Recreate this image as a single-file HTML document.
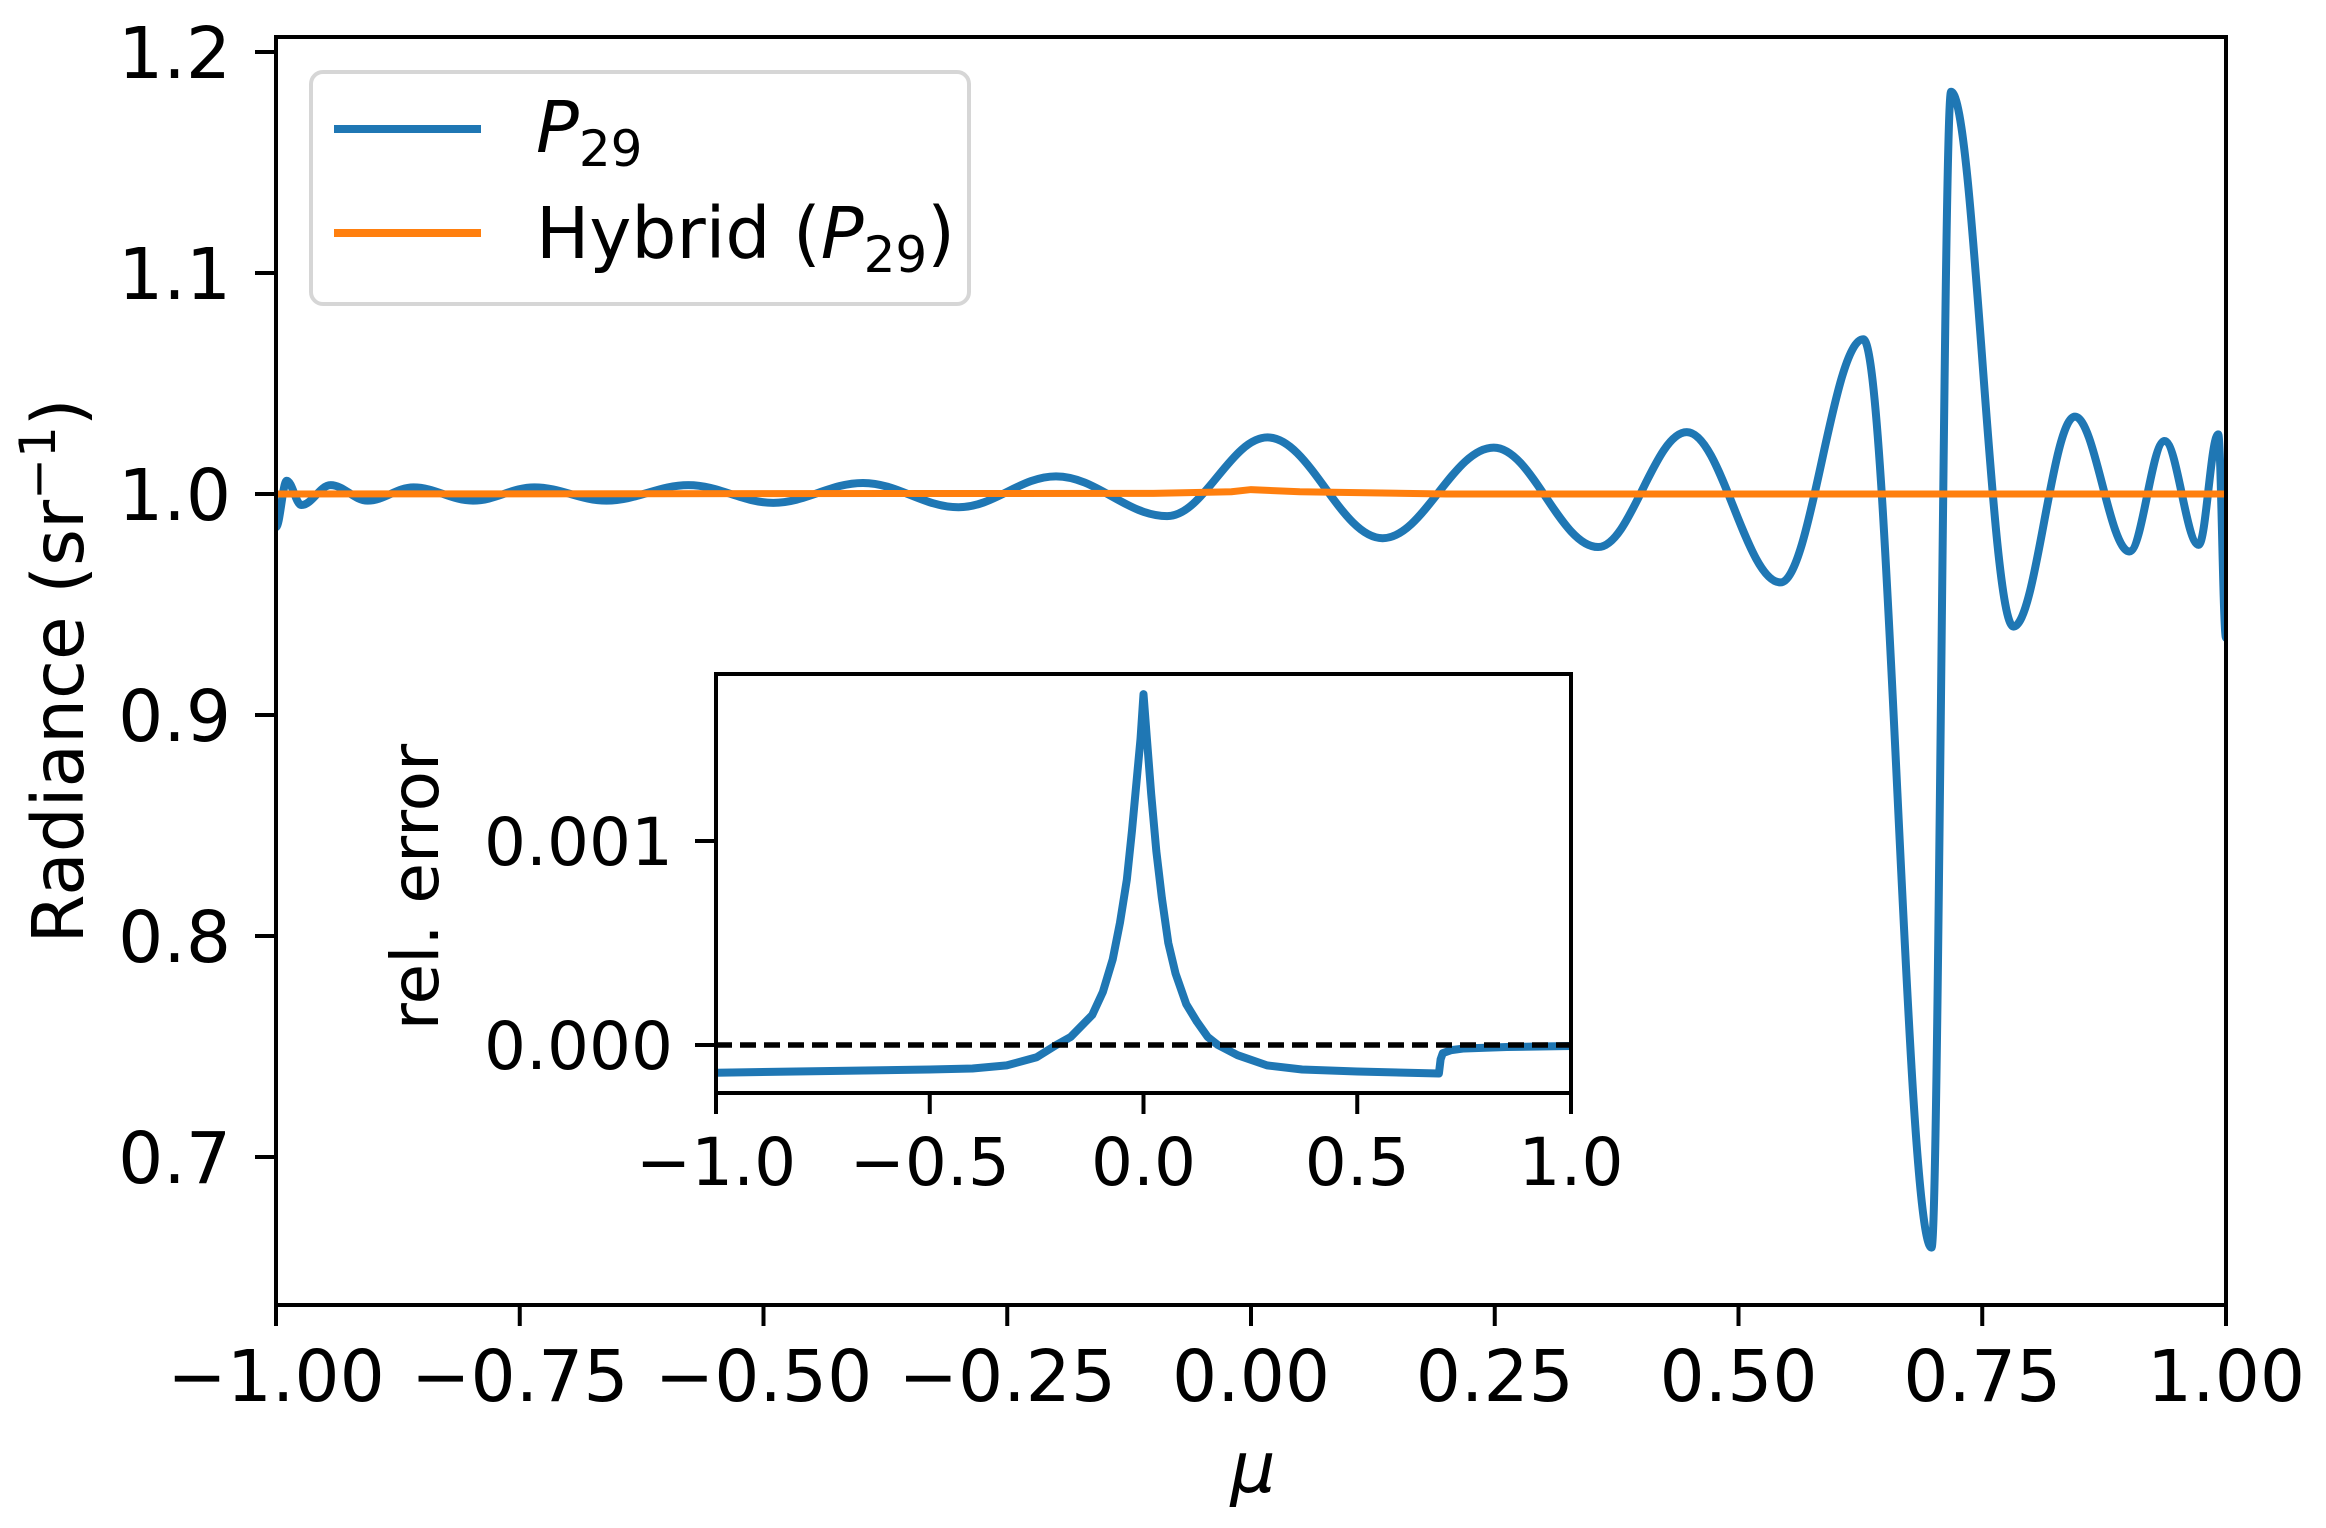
<!DOCTYPE html>
<html><head><meta charset="utf-8"><style>
html,body{margin:0;padding:0;background:#fff;}
svg text{font-family:"DejaVu Sans","Liberation Sans",sans-serif;fill:#000;}
</style></head><body>
<svg id="chart" xmlns="http://www.w3.org/2000/svg" width="2326" height="1523" viewBox="0 0 2326 1523">
<rect x="0" y="0" width="2326" height="1523" fill="#fff"/>
<defs>
<clipPath id="mainClip"><rect x="276" y="37" width="1950" height="1268"/></clipPath>
<clipPath id="insetClip"><rect x="716" y="674" width="855" height="419"/></clipPath>
</defs>
<g id="mainPlot"></g>
<g id="insetPlot"></g>
<text x="1253" y="1492" font-size="71" font-style="italic" text-anchor="middle">μ</text>
<text transform="translate(83,671) rotate(-90)" font-size="71" text-anchor="middle">Radiance (sr<tspan font-size="50" dy="-28">−1</tspan><tspan dy="28">)</tspan></text>
<text transform="translate(438,887) rotate(-90)" font-size="66" text-anchor="middle">rel. error</text>
<g>
<rect x="311" y="72" width="658" height="232" rx="12" fill="#fff" fill-opacity="0.8" stroke="#d6d6d6" stroke-width="4"/>
<line x1="334" y1="129" x2="481" y2="129" stroke="#1f77b4" stroke-width="8"/>
<text x="536" y="152" font-size="71"><tspan font-style="italic">P</tspan><tspan font-size="50" dy="14">29</tspan></text>
<line x1="334" y1="233" x2="481" y2="233" stroke="#ff7f0e" stroke-width="8"/>
<text x="536" y="258" font-size="71">Hybrid (<tspan font-style="italic">P</tspan><tspan font-size="50" dy="14">29</tspan><tspan dy="-14">)</tspan></text>
</g>
</svg>
<script>
// Main chart data (P29 extrema)
const p29Mu = [-1.0,-0.989,-0.974,-0.944,-0.906,-0.859,-0.798,-0.735,-0.661,-0.577,-0.490,-0.398,-0.300,-0.200,-0.086,0.017,0.135,0.249,0.356,0.447,0.543,0.628,0.698,0.718,0.782,0.845,0.901,0.937,0.972,0.992,1.0];
const p29Val = [0.985,1.006,0.995,1.004,0.997,1.003,0.997,1.003,0.997,1.004,0.996,1.005,0.994,1.008,0.990,1.0256,0.980,1.021,0.976,1.028,0.960,1.070,0.659,1.182,0.940,1.035,0.974,1.024,0.977,1.027,0.935];
const hybridMu = [-1.0,-0.1,-0.02,0.0,0.05,0.2,1.0];
const hybridVal = [1.0,1.0003,1.001,1.002,1.001,1.0,1.0];
const mainXTicks = [-1.0,-0.75,-0.5,-0.25,0.0,0.25,0.5,0.75,1.0];
const mainXTickLabels = ["−1.00","−0.75","−0.50","−0.25","0.00","0.25","0.50","0.75","1.00"];
const mainYTicks = [0.7,0.8,0.9,1.0,1.1,1.2];
const mainYTickLabels = ["0.7","0.8","0.9","1.0","1.1","1.2"];
// Inset data
const errMu = [-1.0,-0.5,-0.4,-0.32,-0.25,-0.204,-0.17,-0.12,-0.095,-0.072,-0.055,-0.039,-0.027,-0.015,-0.007,0.0,0.008,0.018,0.03,0.043,0.058,0.075,0.1,0.125,0.15,0.174,0.22,0.289,0.371,0.5,0.691,0.695,0.70,0.72,0.75,0.85,1.0];
const errVal = [-0.000136,-0.00012,-0.000115,-0.0001,-0.00006,0.0,0.00004,0.000147,0.00026,0.00042,0.0006,0.00081,0.00105,0.00132,0.0015,0.00172,0.0015,0.00123,0.00095,0.00072,0.0005,0.00035,0.0002,0.000114,0.00004,0.0,-0.00005,-0.0001,-0.00012,-0.00013,-0.00014,-0.00007,-0.00004,-0.000025,-0.000017,-0.00001,-0.000005];
const insetXTicks = [-1.0,-0.5,0.0,0.5,1.0];
const insetXTickLabels = ["−1.0","−0.5","0.0","0.5","1.0"];
const insetYTicks = [0.0,0.001];
const insetYTickLabels = ["0.000","0.001"];

const NS = "http://www.w3.org/2000/svg";
function mk(tag, attrs, parent){const e=document.createElementNS(NS,tag);for(const k in attrs)e.setAttribute(k,attrs[k]);parent.appendChild(e);return e;}
const mx = v => 276 + (v + 1) * 975;
const my = v => 494 - (v - 1.0) * 2210;
const ix = v => 716 + (v + 1) * 427.5;
const iy = v => 1045 - v * 204000;

const main = document.getElementById('mainPlot');
const inset = document.getElementById('insetPlot');

let d = "M" + mx(p29Mu[0]) + "," + my(p29Val[0]);
for (let i = 1; i < p29Mu.length; i++) {
  const x0 = mx(p29Mu[i-1]), y0 = my(p29Val[i-1]), x1 = mx(p29Mu[i]), y1 = my(p29Val[i]);
  const dx = (x1 - x0) * 0.364;
  d += " C" + (x0+dx) + "," + y0 + " " + (x1-dx) + "," + y1 + " " + x1 + "," + y1;
}
const gClip = mk('g', {'clip-path':'url(#mainClip)'}, main);
const p29 = mk('path', {d:d, fill:'none', stroke:'#1f77b4', 'stroke-width':8, 'stroke-linejoin':'round'}, gClip);


const hyb = mk('polyline', {points: hybridMu.map((m,i)=>mx(m)+","+my(hybridVal[i])).join(" "), fill:'none', stroke:'#ff7f0e', 'stroke-width':7}, gClip);



mainXTicks.forEach((t,i)=>{
  const tk = mk('line', {x1:mx(t), x2:mx(t), y1:1305, y2:1326, stroke:'#000', 'stroke-width':4}, main);
  
  
  const lb = mk('text', {x:mx(t), y:1401, 'font-size':71, 'text-anchor':'middle'}, main);
  lb.textContent = mainXTickLabels[i];
  
  
});
mainYTicks.forEach((t,i)=>{
  const tk = mk('line', {x1:255, x2:276, y1:my(t), y2:my(t), stroke:'#000', 'stroke-width':4}, main);
  
  
  const lb = mk('text', {x:231, y:my(t)+26, 'font-size':71, 'text-anchor':'end'}, main);
  lb.textContent = mainYTickLabels[i];
  
  
});
const frame = mk('rect', {x:276, y:37, width:1950, height:1268, fill:'none', stroke:'#000', 'stroke-width':4}, main);



const bg = mk('rect', {x:716, y:674, width:855, height:419, fill:'#fff'}, inset);


const iClip = mk('g', {'clip-path':'url(#insetClip)'}, inset);
const err = mk('polyline', {points: errMu.map((m,i)=>ix(m)+","+iy(errVal[i])).join(" "), fill:'none', stroke:'#1f77b4', 'stroke-width':8, 'stroke-linejoin':'round'}, iClip);


const zl = mk('line', {x1:716, x2:1571, y1:iy(0), y2:iy(0), stroke:'#000', 'stroke-width':5.5, 'stroke-dasharray':'16,8'}, iClip);


insetXTicks.forEach((t,i)=>{
  const tk = mk('line', {x1:ix(t), x2:ix(t), y1:1093, y2:1114, stroke:'#000', 'stroke-width':4}, inset);
  
  
  const lb = mk('text', {x:ix(t), y:1185, 'font-size':66, 'text-anchor':'middle'}, inset);
  lb.textContent = insetXTickLabels[i];
  
  
});
insetYTicks.forEach((t,i)=>{
  const tk = mk('line', {x1:695, x2:716, y1:iy(t), y2:iy(t), stroke:'#000', 'stroke-width':4}, inset);
  
  
  const lb = mk('text', {x:673, y:iy(t)+24, 'font-size':66, 'text-anchor':'end'}, inset);
  lb.textContent = insetYTickLabels[i];
  
  
});
const iframe = mk('rect', {x:716, y:674, width:855, height:419, fill:'none', stroke:'#000', 'stroke-width':4}, inset);


</script>
</body></html>
